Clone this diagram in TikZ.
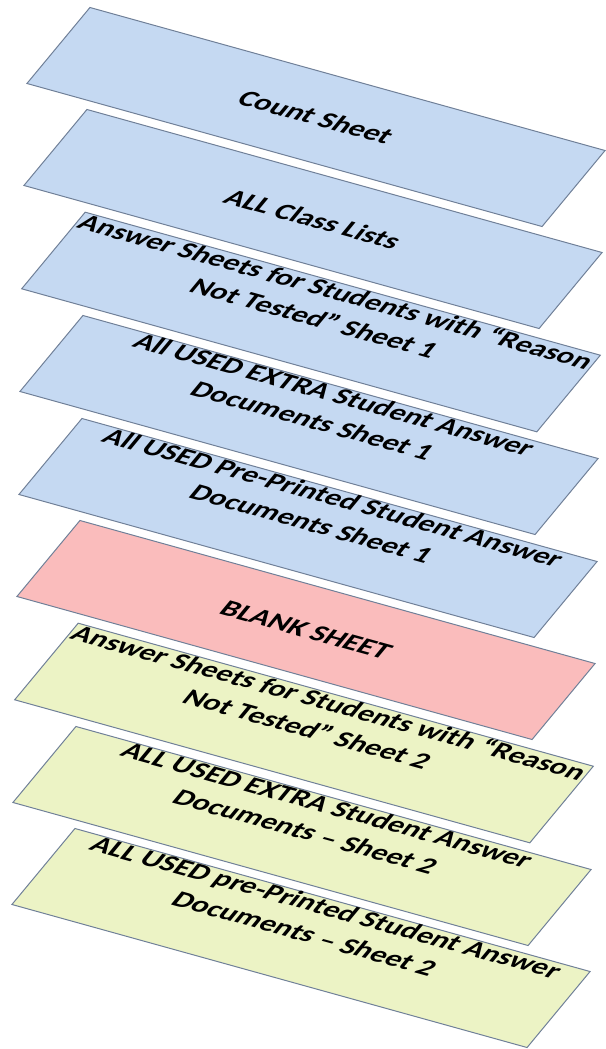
\documentclass[tikz,border=0pt]{standalone}
\usepackage{fontspec}
\setmainfont{Carlito}
\usepackage{tikz}
\usetikzlibrary{positioning}
\definecolor{sheetblue}{RGB}{197,217,242}
\definecolor{sheetpink}{RGB}{250,188,188}
\definecolor{sheetgreen}{RGB}{236,243,197}
\definecolor{sheetedge}{RGB}{112,128,152}
\newcommand{\firstcolor}{sheetblue}
\newcommand{\blankcolor}{sheetpink}
\newcommand{\secondcolor}{sheetgreen}

\begin{document}
\begin{tikzpicture}[
      % GLOBAL CFG
      x=1pt, y=-1pt,
      font=\bfseries\fontsize{24}{31}\selectfont,
      % Styles
      sheet/.style={% For the paper sheets
        rectangle,
        draw=sheetedge,
        line width=1pt,
        cm={1.2335,-0.3425,0.7,0.8444,(0,0)},
        minimum width=417.6pt,
        minimum height=90pt,
        inner sep=0pt,
        align=center
      },
      twoline/.style={% Two lines of text sit higher
        text depth=42pt
      }
      ]

      \useasboundingbox (0,0) rectangle (605,1049);

      % First set of sheets:
      \node [sheet, fill=\firstcolor] (count) at (316,117) {Count Sheet};
      \node [sheet, fill=\firstcolor] (classlists) at (313,219) {ALL Class Lists};
      \node [sheet, twoline, fill=\firstcolor] (nottested1) at (311,322)
        {Answer Sheets for Students with “Reason\\Not Tested” Sheet 1};
      \node [sheet, twoline, fill=\firstcolor] (extra1) at (309,425)
        {All USED EXTRA Student Answer\\Documents Sheet 1};
      \node [sheet, twoline, fill=\firstcolor] (preprinted1) at (308,528)
        {All USED Pre-Printed Student Answer\\Documents Sheet 1};

      % Blank sheet in between
      \node [sheet, fill=\blankcolor] (blank) at (306,630) {BLANK SHEET};

      % Second set of sheets:
      \node [sheet, twoline, fill=\secondcolor] (nottested2) at (304,733)
        {Answer Sheets for Students with “Reason\\Not Tested” Sheet 2};
      \node [sheet, twoline, fill=\secondcolor] (extra2) at (302,836)
        {ALL USED EXTRA Student Answer\\Documents – Sheet 2};
      \node [sheet, twoline, fill=\secondcolor] (preprinted2) at (301,938)
        {ALL USED pre-Printed Student Answer\\Documents – Sheet 2};

    \end{tikzpicture}
\end{document}
